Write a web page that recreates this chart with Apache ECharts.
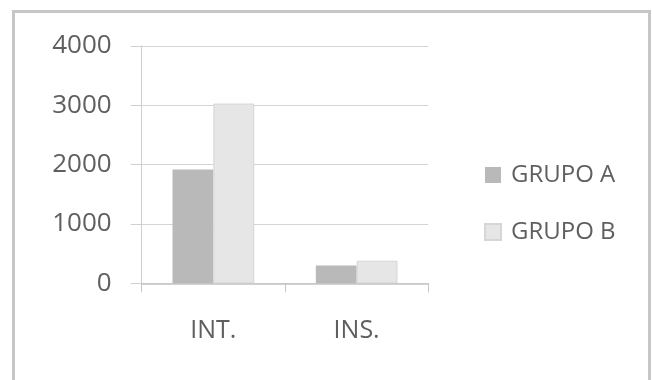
<!DOCTYPE html>
<html>
<head>
<meta charset="utf-8">
<script src="https://cdn.jsdelivr.net/npm/echarts@6/dist/echarts.min.js"></script>
<style>
  html, body { margin: 0; padding: 0; background: #ffffff; }
  #chart { width: 652px; height: 380px; }
</style>
</head>
<body>
<div id="chart"></div>
<script>
// Categories and group values
const categories = ['INT.', 'INS.'];
const grupoA = [1920, 300];
const grupoB = [3030, 380];
const yTicks = [0, 1000, 2000, 3000, 4000];

const chart = echarts.init(document.getElementById('chart'), null, { renderer: 'canvas' });
const FONT = '"Open Sans", "Noto Sans", sans-serif';
const TEXT = '#5f5f5f';

chart.setOption({
  animation: false,
  backgroundColor: '#ffffff',
  graphic: [{
    type: 'rect',
    shape: { x: 13.5, y: 11.5, width: 636, height: 420 },
    style: { fill: 'none', stroke: '#c6c6c6', lineWidth: 3 },
    silent: true
  }],
  grid: { left: 141.7, right: 223.7, top: 46, bottom: 96.7, containLabel: false },
  legend: {
    orient: 'vertical',
    left: 479,
    top: 158,
    itemWidth: 16,
    itemHeight: 16,
    itemGap: 33,
    icon: 'rect',
    data: ['GRUPO A', 'GRUPO B'],
    textStyle: { fontFamily: FONT, fontSize: 24, color: TEXT, lineHeight: 24, padding: [0, 0, 0, 5] }
  },
  xAxis: {
    type: 'category',
    data: categories,
    axisLine: { show: true, lineStyle: { color: '#c4c4c4', width: 1.5 } },
    axisTick: { show: true, length: 9, lineStyle: { color: '#c4c4c4' } },
    axisLabel: { margin: 35, fontFamily: FONT, fontSize: 25, color: TEXT }
  },
  yAxis: {
    type: 'value',
    min: yTicks[0],
    max: yTicks[yTicks.length - 1],
    interval: 1000,
    axisLine: { show: true, lineStyle: { color: '#cfcfcf' } },
    axisTick: { show: true, length: 11, lineStyle: { color: '#cfcfcf' } },
    splitLine: { show: true, lineStyle: { color: '#d4d4d4', width: 1.2 } },
    axisLabel: {
      margin: 30, fontFamily: FONT, fontSize: 26, color: TEXT,
      formatter: (v) => String(v)
    }
  },
  series: [
    {
      name: 'GRUPO A',
      type: 'bar',
      data: grupoA,
      barGap: '0%',
      barCategoryGap: '43%',
      itemStyle: { color: '#b9b9b9' }
    },
    {
      name: 'GRUPO B',
      type: 'bar',
      data: grupoB,
      itemStyle: { color: '#e6e6e6', borderColor: '#d6d6d6', borderWidth: 1 }
    }
  ]
});
</script>
</body>
</html>
